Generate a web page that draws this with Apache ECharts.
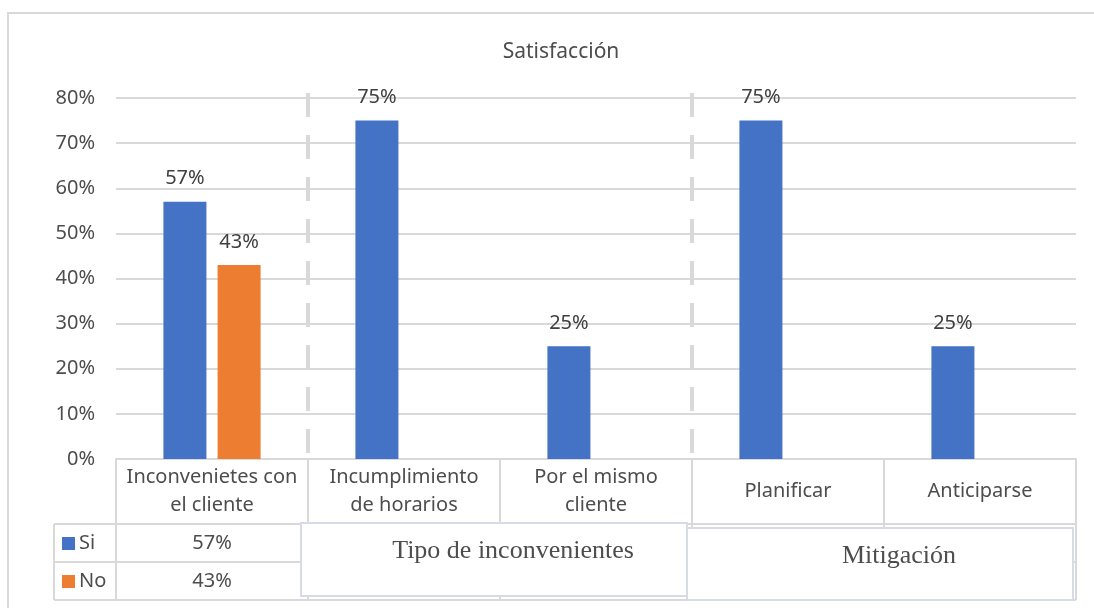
<!DOCTYPE html>
<html>
<head>
<meta charset="utf-8">
<script src="https://cdn.jsdelivr.net/npm/echarts@6/dist/echarts.min.js"></script>
<style>
  html, body { margin: 0; padding: 0; background: #fff; }
  #main { width: 1094px; height: 608px; }
</style>
</head>
<body>
<div id="main"></div>
<script>
var chart = echarts.init(document.getElementById('main'));

// datos
var categorias = ['Inconvenietes con\nel cliente', 'Incumplimiento\nde horarios', 'Por el mismo\ncliente', 'Planificar', 'Anticiparse'];
var si = [57, 75, 25, 75, 25];
var no = [43, null, null, null, null];
var grupos = ['Tipo de inconvenientes', 'Mitigación'];
var yTicks = [0, 10, 20, 30, 40, 50, 60, 70, 80];

var azul = '#4472C4', naranja = '#ED7D31';
var gris = '#d9d9d9', texto = '#4d4d4d';
var fuente = 'Noto Sans';
var fs = 20;

// geometria de la tabla de datos
var gLeft = 116, gRight = 1076, gBottom = 459;
var fila1 = 524, fila2 = 562, fila3 = 600, colLeyenda = 54;

var etiqueta = { show: true, position: 'top', distance: 13, formatter: '{c}%', fontSize: fs, color: '#404040', fontFamily: fuente };

var option = {
    animation: false,
    textStyle: { fontFamily: fuente },
    title: {
        text: 'Satisfacción',
        left: 556,
        textAlign: 'center',
        top: 37,
        textStyle: { fontSize: 21, fontWeight: 'normal', color: texto, fontFamily: fuente }
    },
    grid: { left: gLeft, right: 1094 - gRight, top: 98, bottom: 608 - gBottom, containLabel: false },
    xAxis: {
        type: 'category',
        data: categorias,
        axisLine: { show: true, lineStyle: { color: gris, width: 2 } },
        axisTick: { show: true, length: fila3 - gBottom, lineStyle: { color: gris, width: 2 } },
        axisLabel: {
            margin: 32,
            verticalAlign: 'middle',
            lineHeight: 28,
            fontSize: fs,
            color: texto,
            fontFamily: fuente,
            interval: 0
        },
        splitLine: { show: false }
    },
    yAxis: {
        type: 'value',
        min: yTicks[0],
        max: yTicks[yTicks.length - 1],
        interval: 10,
        axisLine: { show: false },
        axisTick: { show: false },
        axisLabel: { formatter: '{value}%', fontSize: fs, color: texto, margin: 21, fontFamily: fuente },
        splitLine: { lineStyle: { color: gris, width: 2 } }
    },
    series: [{
        name: 'Si',
        type: 'bar',
        data: si,
        barWidth: 43,
        barGap: '26%',
        itemStyle: { color: azul },
        label: etiqueta
    }, {
        name: 'No',
        type: 'bar',
        data: no,
        barWidth: 43,
        barGap: '26%',
        itemStyle: { color: naranja },
        label: etiqueta
    }]
};
chart.setOption(option);

// tabla de datos y cajas de grupo
var c0 = chart.convertToPixel({ xAxisIndex: 0 }, 0);
var c1 = chart.convertToPixel({ xAxisIndex: 0 }, 1);
var c3 = chart.convertToPixel({ xAxisIndex: 0 }, 3);
var ancho = c1 - c0;
var graficos = [
    { type: 'rect', shape: { x: 8, y: 13, width: 1200, height: 700 }, style: { fill: 'none', stroke: gris, lineWidth: 2 }, z: 0 },
    { type: 'line', shape: { x1: colLeyenda, y1: fila1, x2: gRight, y2: fila1 }, style: { stroke: gris, lineWidth: 2 } },
    { type: 'line', shape: { x1: colLeyenda, y1: fila2, x2: gRight, y2: fila2 }, style: { stroke: gris, lineWidth: 2 } },
    { type: 'line', shape: { x1: colLeyenda, y1: fila3, x2: gRight, y2: fila3 }, style: { stroke: gris, lineWidth: 2 } },
    { type: 'line', shape: { x1: colLeyenda, y1: fila1, x2: colLeyenda, y2: fila3 }, style: { stroke: gris, lineWidth: 2 } }
];
// separadores de grupo discontinuos
[c1 - ancho / 2, c3 - ancho / 2].forEach(function (x) {
    graficos.push({ type: 'line', z: 5, shape: { x1: x, y1: 93, x2: x, y2: gBottom }, style: { stroke: gris, lineWidth: 4, lineDash: [24, 18] } });
});
var filas = [{ nombre: 'Si', color: azul, valor: si[0], y: (fila1 + fila2) / 2 },
             { nombre: 'No', color: naranja, valor: no[0], y: (fila2 + fila3) / 2 }];
filas.forEach(function (f) {
    graficos.push({ type: 'rect', shape: { x: 62, y: f.y - 6, width: 13, height: 13 }, style: { fill: f.color } });
    graficos.push({ type: 'text', x: 79, y: f.y, style: { text: f.nombre, fill: texto, font: fs + 'px "' + fuente + '"', verticalAlign: 'middle' } });
    graficos.push({ type: 'text', x: c0, y: f.y, style: { text: f.valor + '%', fill: texto, font: fs + 'px "' + fuente + '"', align: 'center', verticalAlign: 'middle' } });
});
var cajas = [
    { x: c1 - ancho / 2 - 7, y: 523, w: 386, h: 73 },
    { x: c3 - ancho / 2 - 5, y: 528, w: 386, h: 72 }
];
cajas.forEach(function (b, i) {
    graficos.push({ type: 'rect', z: 10, shape: { x: b.x, y: b.y, width: b.w, height: b.h }, style: { fill: '#fff', stroke: '#d6dce5', lineWidth: 2 } });
    graficos.push({ type: 'text', z: 11, x: b.x + b.w / 2 + 19, y: b.y + 28, style: { text: grupos[i], fill: texto, font: '26px "Liberation Serif"', align: 'center', verticalAlign: 'middle' } });
});
chart.setOption({ graphic: graficos });
</script>
</body>
</html>
